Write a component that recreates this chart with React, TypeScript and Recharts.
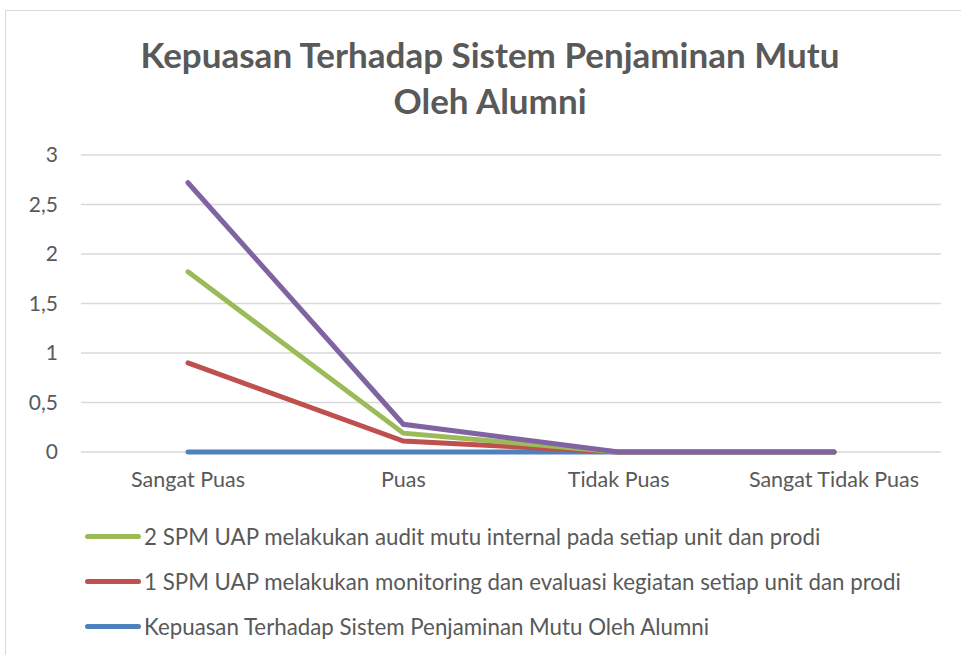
import { LineChart, Line, XAxis, YAxis, CartesianGrid } from "recharts"

const categories = ["Sangat Puas", "Puas", "Tidak Puas", "Sangat Tidak Puas"]
const alumni = [0, 0, 0, 0]
const monev = [0.9, 0.11, 0, 0]
const audit = [1.82, 0.19, 0, 0]
const extra = [2.72, 0.28, 0, 0]
const yTicks = [0, 0.5, 1, 1.5, 2, 2.5, 3]

const TEXT = "#595959"
const FONT = "Lato, 'Open Sans', sans-serif"

const legendItems = [
  { label: "2 SPM UAP melakukan audit mutu internal pada setiap unit dan prodi", color: "#9BBB59" },
  { label: "1 SPM UAP melakukan monitoring dan evaluasi kegiatan setiap unit dan prodi", color: "#C0504D" },
  { label: "Kepuasan Terhadap Sistem Penjaminan Mutu Oleh Alumni", color: "#4F81BD" },
]

const data = categories.map((name, i) => ({
  name,
  alumni: alumni[i],
  monev: monev[i],
  audit: audit[i],
  extra: extra[i],
}))

export default function App() {
  return (
    <div style={{ position: "absolute", left: 0, top: 0, width: 961, height: 655, background: "#fff", fontFamily: FONT, overflow: "hidden" }}>
      <div style={{ position: "absolute", left: 5, top: 10, width: 970, height: 660, border: "1px solid #d9d9d9" }} />
      <div
        style={{
          position: "absolute",
          left: 0,
          width: 980,
          top: 31,
          textAlign: "center",
          fontSize: 35,
          fontWeight: 700,
          color: TEXT,
          lineHeight: "46px",
        }}
      >
        Kepuasan Terhadap Sistem Penjaminan Mutu
        <br />
        Oleh Alumni
      </div>
      <div style={{ position: "absolute", left: 0, top: 0 }}>
        <LineChart width={961} height={655} data={data} margin={{ top: 155, right: 20, bottom: 173, left: 0 }}>
          <CartesianGrid vertical={false} stroke="#d9d9d9" strokeWidth={1.5} />
          <XAxis
            dataKey="name"
            axisLine={false}
            tickLine={false}
            tickSize={0}
            tickMargin={20}
            height={30}
            padding={{ left: 107, right: 107 }}
            tick={{ fill: TEXT, fontSize: 21.5, fontFamily: FONT }}
            interval={0}
          />
          <YAxis
            domain={[0, 3]}
            ticks={yTicks}
            width={81}
            axisLine={false}
            tickLine={false}
            tickSize={0}
            tickMargin={23}
            tickFormatter={(v: number) => String(v).replace(".", ",")}
            tick={{ fill: TEXT, fontSize: 21, fontFamily: FONT }}
          />
          <Line dataKey="alumni" stroke="#4F81BD" strokeWidth={5} dot={false} isAnimationActive={false} strokeLinecap="round" />
          <Line dataKey="monev" stroke="#C0504D" strokeWidth={5} dot={false} isAnimationActive={false} strokeLinecap="round" />
          <Line dataKey="audit" stroke="#9BBB59" strokeWidth={5} dot={false} isAnimationActive={false} strokeLinecap="round" />
          <Line dataKey="extra" stroke="#8064A2" strokeWidth={5} dot={false} isAnimationActive={false} strokeLinecap="round" />
        </LineChart>
      </div>
      {legendItems.map((item, i) => (
        <div
          key={item.label}
          style={{ position: "absolute", left: 85, top: 522 + i * 45, display: "flex", alignItems: "center", height: 28 }}
        >
          <div style={{ width: 56, height: 5, borderRadius: 3, background: item.color }} />
          <span style={{ marginLeft: 3, fontSize: 22.3, color: TEXT, whiteSpace: "nowrap" }}>{item.label}</span>
        </div>
      ))}
    </div>
  )
}
